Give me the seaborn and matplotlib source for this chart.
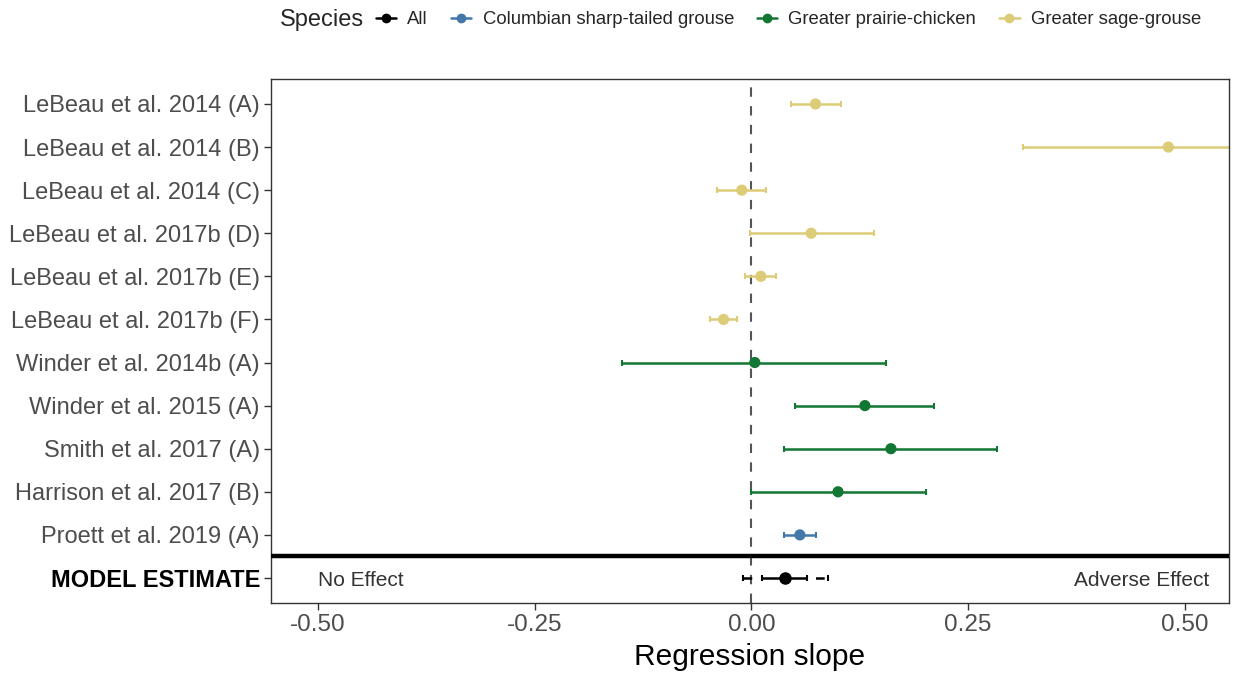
import matplotlib
matplotlib.use('Agg')
import matplotlib.pyplot as plt
from matplotlib.lines import Line2D
import seaborn as sns
import pandas as pd

studies = ['LeBeau et al. 2014 (A)', 'LeBeau et al. 2014 (B)', 'LeBeau et al. 2014 (C)',
           'LeBeau et al. 2017b (D)', 'LeBeau et al. 2017b (E)', 'LeBeau et al. 2017b (F)',
           'Winder et al. 2014b (A)', 'Winder et al. 2015 (A)', 'Smith et al. 2017 (A)',
           'Harrison et al. 2017 (B)', 'Proett et al. 2019 (A)']
species = ['Greater sage-grouse'] * 6 + ['Greater prairie-chicken'] * 4 + ['Columbian sharp-tailed grouse']
slope = [0.074, 0.481, -0.011, 0.069, 0.011, -0.032, 0.004, 0.131, 0.161, 0.100, 0.056]
lower = [0.046, 0.313, -0.040, -0.002, -0.007, -0.048, -0.149, 0.050, 0.038, 0.000, 0.038]
upper = [0.103, 0.650, 0.017, 0.141, 0.028, -0.016, 0.155, 0.211, 0.283, 0.201, 0.075]

# overall model estimate, confidence and prediction interval
model_est = 0.039
model_ci = (0.012, 0.064)
model_pi = (-0.010, 0.088)

palette = {'All': '#000000',
           'Columbian sharp-tailed grouse': '#4477AA',
           'Greater prairie-chicken': '#117733',
           'Greater sage-grouse': '#DDCC77'}

df = pd.DataFrame({'study': studies, 'species': species, 'slope': slope,
                   'lower': lower, 'upper': upper})
df['pos'] = range(1, len(df) + 1)

sns.set_style('white')
plt.rcParams['font.family'] = ['Liberation Sans', 'DejaVu Sans']

fig = plt.figure(figsize=(12.33, 6.75), dpi=100)
ax = fig.add_axes([0.2198, 0.1067, 0.777, 0.7763])

ax.axvline(0, color='#555555', lw=1.5, ls=(0, (4.5, 4.5)), zorder=1)
ax.axhline(len(df) + 0.5, color='black', lw=3.2, zorder=4)

for _, r in df.iterrows():
    ax.errorbar(r['slope'], r['pos'], xerr=[[r['slope'] - r['lower']], [r['upper'] - r['slope']]],
                fmt='none', ecolor=palette[r['species']], elinewidth=1.8, capsize=2.5,
                capthick=1.5, zorder=2)
sns.scatterplot(data=df, x='slope', y='pos', hue='species', palette=palette, s=65,
                edgecolor='none', legend=False, ax=ax, zorder=3)

mpos = len(df) + 1
pi_line = ax.errorbar(model_est, mpos, xerr=[[model_est - model_pi[0]], [model_pi[1] - model_est]],
                      fmt='none', ecolor='black', elinewidth=1.8, capsize=2.5, capthick=1.5, zorder=2)
pi_line[-1][0].set_linestyle((0, (3.5, 11)))
ax.errorbar(model_est, mpos, xerr=[[model_est - model_ci[0]], [model_ci[1] - model_est]],
            fmt='o', color='black', ms=8, elinewidth=1.8, capsize=2.5, capthick=1.5, zorder=3)

ax.text(-0.45, mpos + 0.05, 'No Effect', ha='center', va='center', fontsize=15, color='#333333')
ax.text(0.45, mpos + 0.05, 'Adverse Effect', ha='center', va='center', fontsize=15, color='#333333')

ax.set_xlim(-0.554, 0.551)
ax.set_ylim(mpos + 0.58, 0.42)
ax.set_yticks(list(df['pos']) + [mpos])
ax.set_yticklabels(studies + ['MODEL ESTIMATE'], fontsize=17, color='#4D4D4D')
lab = ax.get_yticklabels()[-1]
lab.set_fontweight('bold')
lab.set_color('black')
ax.set_xticks([-0.5, -0.25, 0, 0.25, 0.5])
ax.set_xticklabels(['-0.50', '-0.25', '0.00', '0.25', '0.50'], fontsize=17.5, color='#4D4D4D')
ax.tick_params(axis='both', length=5, width=1, color='#333333', pad=3, left=True, bottom=True)
ax.set_xlabel('Regression slope', fontsize=21.5, color='black', labelpad=5)
ax.set_ylabel('')
for sp in ax.spines.values():
    sp.set_color('#333333')
    sp.set_linewidth(1)

# legend across the top
fig.text(280 / 1233, 1 - 20 / 675, 'Species', fontsize=17, va='center', ha='left')
handles = [Line2D([0], [0], color=palette[k], marker='o', ms=6, lw=1.8) for k in palette]
fig.legend(handles, list(palette.keys()), loc='center left', bbox_to_anchor=(376 / 1233, 1 - 20 / 675),
           ncol=4, frameon=False, fontsize=13.3, handlelength=1.1, handletextpad=0.6,
           columnspacing=1.25, borderaxespad=0, borderpad=0)

fig.savefig('out.png', dpi=100)
